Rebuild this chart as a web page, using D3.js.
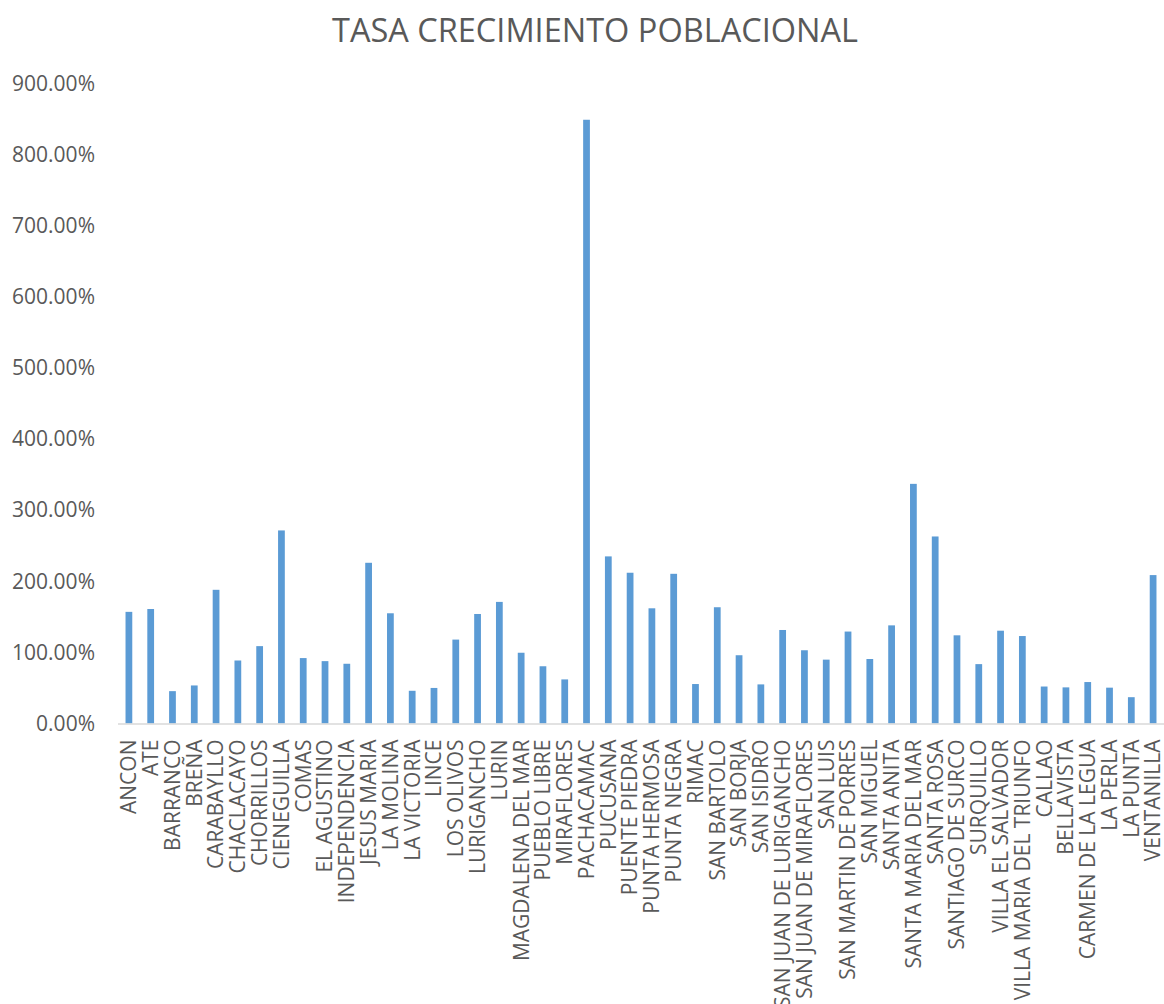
<!DOCTYPE html>
<html>
<head>
<meta charset="utf-8">
<script src="https://cdn.jsdelivr.net/npm/d3@7"></script>
<style>
  html, body { margin: 0; padding: 0; background: #ffffff; }
  svg { display: block; font-family: "Open Sans", sans-serif; }
</style>
</head>
<body>
<svg id="chart" width="1164" height="1004"></svg>
<script>
const titleText = "TASA CRECIMIENTO POBLACIONAL";
const categories = [
  "ANCON","ATE","BARRANCO","BREÑA","CARABAYLLO","CHACLACAYO","CHORRILLOS","CIENEGUILLA",
  "COMAS","EL AGUSTINO","INDEPENDENCIA","JESUS MARIA","LA MOLINA","LA VICTORIA","LINCE",
  "LOS OLIVOS","LURIGANCHO","LURIN","MAGDALENA DEL MAR","PUEBLO LIBRE","MIRAFLORES",
  "PACHACAMAC","PUCUSANA","PUENTE PIEDRA","PUNTA HERMOSA","PUNTA NEGRA","RIMAC",
  "SAN BARTOLO","SAN BORJA","SAN ISIDRO","SAN JUAN DE LURIGANCHO","SAN JUAN DE MIRAFLORES",
  "SAN LUIS","SAN MARTIN DE PORRES","SAN MIGUEL","SANTA ANITA","SANTA MARIA DEL MAR",
  "SANTA ROSA","SANTIAGO DE SURCO","SURQUILLO","VILLA EL SALVADOR","VILLA MARIA DEL TRIUNFO",
  "CALLAO","BELLAVISTA","CARMEN DE LA LEGUA","LA PERLA","LA PUNTA","VENTANILLA"
];
// growth rate, in percent
const values = [
  157, 161, 45.5, 53.5, 188, 88.6, 108.8, 271.5,
  92, 87.7, 84, 226, 155, 46, 50,
  118, 154, 171, 99.5, 80.5, 62,
  849, 235, 212, 162, 210.5, 55.5,
  163.5, 96, 55, 131.5, 103,
  89.8, 129.3, 90.7, 138, 337,
  263, 124, 83.5, 130.5, 123,
  52, 50.8, 58.3, 50.4, 37, 208.7
];
const yTicks = [0, 100, 200, 300, 400, 500, 600, 700, 800, 900];

const svg = d3.select("#chart");
const textColor = "#595959";
const plotLeft = 118, plotRight = 1164, plotTop = 83.5, plotBottom = 723.5;

const x = d3.scaleBand().domain(categories).range([plotLeft, plotRight]).paddingInner(0.69).paddingOuter(0.345);
const y = d3.scaleLinear().domain([0, 900]).range([plotBottom, plotTop]);

// title
svg.append("text")
  .attr("x", 595).attr("y", 42)
  .attr("text-anchor", "middle")
  .attr("font-size", 32.5)
  .attr("fill", textColor)
  .text(titleText);

// bars
svg.append("g").selectAll("rect")
  .data(categories.map((c, i) => ({c, v: values[i]})))
  .join("rect")
  .attr("x", d => x(d.c))
  .attr("width", x.bandwidth())
  .attr("y", d => y(d.v))
  .attr("height", d => y(0) - y(d.v))
  .attr("fill", "#5B9BD5");

// y axis (labels only)
const yAxis = d3.axisLeft(y).tickValues(yTicks).tickSize(0).tickPadding(0)
  .tickFormat(d => d3.format(".2f")(d) + "%");
const gy = svg.append("g").attr("transform", "translate(95,0)").call(yAxis);
gy.select(".domain").remove();
gy.selectAll("text").attr("font-size", 21).attr("fill", textColor)
  .attr("font-family", "Open Sans, sans-serif");

// x axis
const xAxis = d3.axisBottom(x).tickSize(0).tickPadding(0);
const gx = svg.append("g").attr("transform", `translate(0,${plotBottom})`).call(xAxis);
gx.select(".domain").attr("stroke", "#D9D9D9").attr("stroke-width", 1.5)
  .attr("d", `M${plotLeft},0.5H${plotRight}`);
gx.selectAll("text")
  .attr("font-size", 21).attr("fill", textColor)
  .attr("font-family", "Open Sans, sans-serif")
  .attr("text-anchor", "end")
  .attr("transform", "rotate(-90)")
  .attr("x", -16).attr("y", 0).attr("dy", "0.35em");
</script>
</body>
</html>
